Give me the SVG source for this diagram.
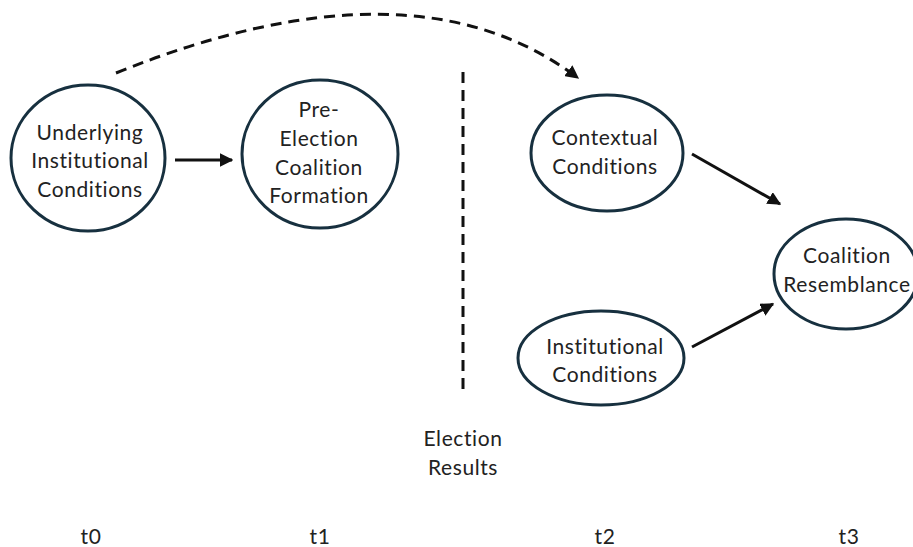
<svg xmlns="http://www.w3.org/2000/svg" width="913" height="547" viewBox="0 0 913 547">
<defs>
<marker id="ah" viewBox="0 0 10 10" refX="9" refY="5" markerWidth="4.5" markerHeight="4.5" orient="auto" markerUnits="strokeWidth"><path d="M0,0 L10,5 L0,10 z" fill="#111"/></marker>
<style>
.n{fill:#fff;stroke:#17303f;stroke-width:3}
.t{font-family:Lato,"Open Sans",sans-serif;font-size:21px;letter-spacing:0.6px;font-variant-ligatures:none;fill:#222;text-anchor:middle}
.c{fill:none;stroke:#111;stroke-width:3}
.d{stroke-dasharray:11 7}
</style>
</defs>
<rect width="913" height="547" fill="#fff"/>
<g id="connectors">
<path class="c d" d="M116,73 Q413,-47 578,78" marker-end="url(#ah)"/>
<line class="c d" x1="463" y1="72" x2="463" y2="395" stroke-dasharray="12 7"/>
<line class="c" x1="175" y1="160" x2="232" y2="160" marker-end="url(#ah)"/>
<line class="c" x1="692" y1="154" x2="780" y2="204" marker-end="url(#ah)"/>
<line class="c" x1="692" y1="347" x2="773" y2="304" marker-end="url(#ah)"/>
</g>
<g id="underlying">
<ellipse class="n" cx="88" cy="158" rx="77" ry="73"/>
<text class="t" x="90" y="140">Underlying</text>
<text class="t" x="90" y="168">Institutional</text>
<text class="t" x="90" y="197">Conditions</text>
</g>
<g id="preelection">
<ellipse class="n" cx="320" cy="154" rx="78" ry="74"/>
<text class="t" x="319" y="117">Pre-</text>
<text class="t" x="319" y="146">Election</text>
<text class="t" x="319" y="175">Coalition</text>
<text class="t" x="319" y="203">Formation</text>
</g>
<g id="contextual">
<ellipse class="n" cx="607" cy="153" rx="76" ry="58"/>
<text class="t" x="605" y="145">Contextual</text>
<text class="t" x="605" y="174">Conditions</text>
</g>
<g id="institutional">
<ellipse class="n" cx="601" cy="358" rx="83" ry="47"/>
<text class="t" x="605" y="354">Institutional</text>
<text class="t" x="605" y="382">Conditions</text>
</g>
<g id="resemblance">
<ellipse class="n" cx="846" cy="274" rx="72" ry="55"/>
<text class="t" x="847" y="263">Coalition</text>
<text class="t" x="847" y="292">Resemblance</text>
</g>
<g id="election-results">
<text class="t" x="463" y="446">Election</text>
<text class="t" x="463" y="475">Results</text>
</g>
<g id="time-labels">
<text class="t" x="91" y="544">t0</text>
<text class="t" x="320" y="544">t1</text>
<text class="t" x="605" y="544">t2</text>
<text class="t" x="849" y="544">t3</text>
</g>
</svg>
